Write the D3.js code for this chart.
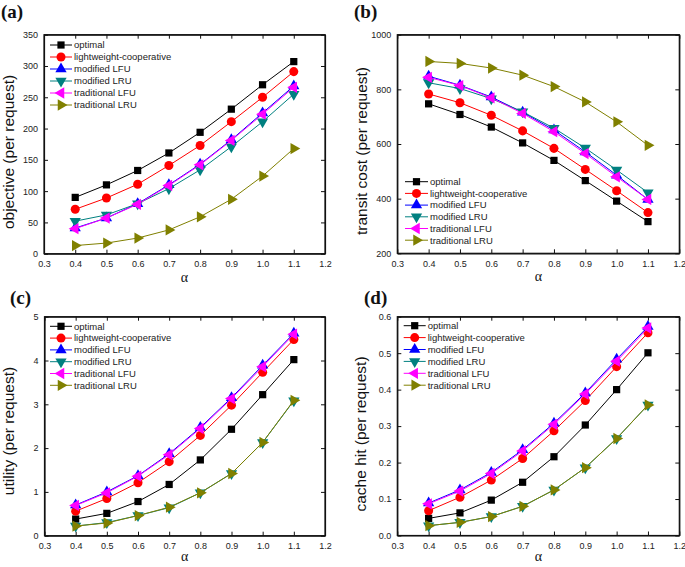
<!DOCTYPE html>
<html><head><meta charset="utf-8">
<script src="https://cdn.jsdelivr.net/npm/d3@7"></script>
<style>body{margin:0;background:#fff}svg{display:block}</style>
</head><body>
<svg id="chart" width="685" height="567"></svg>
<script>
// ---------- data ----------
const alphaValues = [0.4, 0.5, 0.6, 0.7, 0.8, 0.9, 1.0, 1.1];
const xTickValues = [0.3, 0.4, 0.5, 0.6, 0.7, 0.8, 0.9, 1.0, 1.1, 1.2];
const seriesNames = ["optimal", "lightweight-cooperative", "modified LFU", "modified LRU", "traditional LFU", "traditional LRU"];
const seriesColors = ["#000000", "#ff0000", "#0000ff", "#008080", "#ff00ff", "#808000"];
const seriesSymbols = ["square", "circle", "up", "down", "left", "right"];

// (a) objective (per request)
const objectiveValues = [
  [90, 110, 133, 161, 194, 231, 270, 307],
  [71, 89, 111, 141, 173, 211, 250, 291],
  [41, 57, 80, 110, 143, 182, 225, 268],
  [52, 62, 80, 104, 134, 171, 211, 255],
  [40, 57, 79, 109, 142, 181, 223, 266],
  [13, 17, 25, 38, 59, 87, 124, 168]
];
const objectiveTicks = [0, 50, 100, 150, 200, 250, 300, 350];

// (b) transit cost (per request)
const transitValues = [
  [747, 708, 662, 604, 540, 466, 391, 316],
  [783, 751, 705, 648, 584, 507, 429, 349],
  [848, 815, 772, 716, 651, 571, 486, 397],
  [824, 803, 766, 718, 658, 585, 505, 422],
  [844, 814, 769, 712, 645, 565, 480, 397],
  [902, 895, 878, 852, 810, 754, 681, 595]
];
const transitTicks = [200, 400, 600, 800, 1000];

// (c) utility (per request)
const utilityValues = [
  [0.38, 0.51, 0.78, 1.17, 1.73, 2.43, 3.22, 4.02],
  [0.56, 0.85, 1.21, 1.69, 2.29, 2.98, 3.73, 4.48],
  [0.70, 1.00, 1.37, 1.87, 2.47, 3.15, 3.89, 4.62],
  [0.22, 0.30, 0.46, 0.64, 0.98, 1.42, 2.13, 3.08],
  [0.69, 0.98, 1.36, 1.85, 2.45, 3.13, 3.86, 4.60],
  [0.22, 0.29, 0.46, 0.65, 0.98, 1.42, 2.13, 3.09]
];
const utilityTicks = [0, 1, 2, 3, 4, 5];

// (d) cache hit (per request)
const cacheHitValues = [
  [0.047, 0.062, 0.097, 0.146, 0.216, 0.303, 0.400, 0.501],
  [0.068, 0.105, 0.152, 0.211, 0.287, 0.370, 0.463, 0.556],
  [0.089, 0.125, 0.173, 0.235, 0.308, 0.391, 0.483, 0.573],
  [0.027, 0.036, 0.052, 0.080, 0.125, 0.186, 0.266, 0.358],
  [0.087, 0.122, 0.170, 0.232, 0.305, 0.388, 0.478, 0.569],
  [0.027, 0.036, 0.052, 0.080, 0.125, 0.186, 0.266, 0.358]
];
const cacheHitTicks = [0.0, 0.1, 0.2, 0.3, 0.4, 0.5, 0.6];

// ---------- layout ----------
const panels = [
  { label: "(a)", values: objectiveValues, ticks: objectiveTicks, title: "objective (per request)", fmt: d3.format("d"),
    box: { x0: 44, x1: 325, y0: 34.7, y1: 253.7 }, labelPos: [1, 17.5], titleX: 14, titleY: 152,
    legend: { x: 50, y: 45, dy: 12, len: 22 } },
  { label: "(b)", values: transitValues, ticks: transitTicks, title: "transit cost (per request)", fmt: d3.format("d"),
    box: { x0: 397.3, x1: 679.3, y0: 34.7, y1: 253.3 }, labelPos: [354, 17.5], titleX: 366.5, titleY: 151,
    legend: { x: 405, y: 181.7, dy: 11.7, len: 23 } },
  { label: "(c)", values: utilityValues, ticks: utilityTicks, title: "utility (per request)", fmt: d3.format("d"),
    box: { x0: 44.5, x1: 325, y0: 316.7, y1: 535.7 }, labelPos: [10, 303.5], titleX: 14, titleY: 431,
    legend: { x: 50, y: 326.3, dy: 11.8, len: 22 } },
  { label: "(d)", values: cacheHitValues, ticks: cacheHitTicks, title: "cache hit (per request)", fmt: d3.format(".1f"),
    box: { x0: 397.3, x1: 679.3, y0: 316.7, y1: 535.5 }, labelPos: [364, 303.5], titleX: 366, titleY: 434,
    legend: { x: 403.7, y: 325.7, dy: 11.9, len: 22 } }
];

const sans = "Arial, 'Liberation Sans', Helvetica, sans-serif";
const serif = "'Times New Roman', 'Liberation Serif', serif";
const svg = d3.select("#chart");
svg.append("rect").attr("width", 685).attr("height", 567).attr("fill", "#fff");

function symbolPath(kind) {
  if (kind === "square") return d3.symbol(d3.symbolSquare, 52)();
  if (kind === "circle") return d3.symbol(d3.symbolCircle, 64)();
  return d3.symbol(d3.symbolTriangle, 55)();
}
function symbolRotate(kind) {
  return { down: 180, left: -90, right: 90 }[kind] || 0;
}

panels.forEach(p => {
  const b = p.box;
  const x = d3.scaleLinear().domain([0.3, 1.2]).range([b.x0, b.x1]);
  const y = d3.scaleLinear().domain([p.ticks[0], p.ticks[p.ticks.length - 1]]).range([b.y1, b.y0]);
  const g = svg.append("g");

  // axes with inward ticks
  const axB = g.append("g").attr("transform", `translate(0,${b.y1})`)
    .call(d3.axisBottom(x).tickValues(xTickValues).tickFormat(d3.format(".1f")).tickSizeInner(-4).tickSizeOuter(0).tickPadding(7));
  const axT = g.append("g").attr("transform", `translate(0,${b.y0})`)
    .call(d3.axisTop(x).tickValues(xTickValues).tickFormat("").tickSizeInner(-4).tickSizeOuter(0));
  const axL = g.append("g").attr("transform", `translate(${b.x0},0)`)
    .call(d3.axisLeft(y).tickValues(p.ticks).tickFormat(p.fmt).tickSizeInner(-4).tickSizeOuter(0).tickPadding(6));
  const axR = g.append("g").attr("transform", `translate(${b.x1},0)`)
    .call(d3.axisRight(y).tickValues(p.ticks).tickFormat("").tickSizeInner(-4).tickSizeOuter(0));
  [axB, axT, axL, axR].forEach(a => {
    a.select(".domain").attr("stroke", "#111").attr("stroke-width", 1.2);
    a.selectAll(".tick line").attr("stroke", "#111").attr("stroke-width", 1);
    a.selectAll(".tick text").attr("font-family", sans).attr("font-size", 9).attr("fill", "#222");
  });
  // frame
  g.append("rect").attr("x", b.x0).attr("y", b.y0).attr("width", b.x1 - b.x0).attr("height", b.y1 - b.y0)
    .attr("fill", "none").attr("stroke", "#111").attr("stroke-width", 1.2);

  // series
  const line = d3.line().x((d, i) => x(alphaValues[i])).y(d => y(d));
  p.values.forEach((vals, s) => {
    const sg = g.append("g");
    sg.append("path").datum(vals).attr("d", line).attr("fill", "none")
      .attr("stroke", seriesColors[s]).attr("stroke-width", 1);
    sg.selectAll("path.m").data(vals).enter().append("path").attr("class", "m")
      .attr("d", symbolPath(seriesSymbols[s]))
      .attr("transform", (d, i) => `translate(${x(alphaValues[i])},${y(d)}) rotate(${symbolRotate(seriesSymbols[s])})`)
      .attr("fill", seriesColors[s]);
  });

  // legend
  const L = p.legend;
  seriesNames.forEach((name, s) => {
    const ly = L.y + s * L.dy;
    g.append("line").attr("x1", L.x).attr("x2", L.x + L.len).attr("y1", ly).attr("y2", ly)
      .attr("stroke", seriesColors[s]).attr("stroke-width", 1);
    g.append("path").attr("d", symbolPath(seriesSymbols[s]))
      .attr("transform", `translate(${L.x + L.len / 2},${ly}) rotate(${symbolRotate(seriesSymbols[s])})`)
      .attr("fill", seriesColors[s]);
    g.append("text").attr("x", L.x + L.len + 2).attr("y", ly).attr("dy", "0.35em")
      .attr("font-family", sans).attr("font-size", 9.5).attr("fill", "#222").text(name);
  });

  // titles
  g.append("text").attr("transform", `translate(${p.titleX},${p.titleY}) rotate(-90)`)
    .attr("text-anchor", "middle").attr("font-family", sans).attr("font-size", 15.5).attr("fill", "#111").text(p.title);
  g.append("text").attr("x", (b.x0 + b.x1) / 2).attr("y", Math.min(b.y1 + 28, 561))
    .attr("text-anchor", "middle").attr("font-family", serif).attr("font-size", 14).attr("fill", "#111").text("α");
  g.append("text").attr("x", p.labelPos[0]).attr("y", p.labelPos[1])
    .attr("font-family", serif).attr("font-weight", "bold").attr("font-size", 19).attr("fill", "#111").text(p.label);
});
</script>
</body></html>
